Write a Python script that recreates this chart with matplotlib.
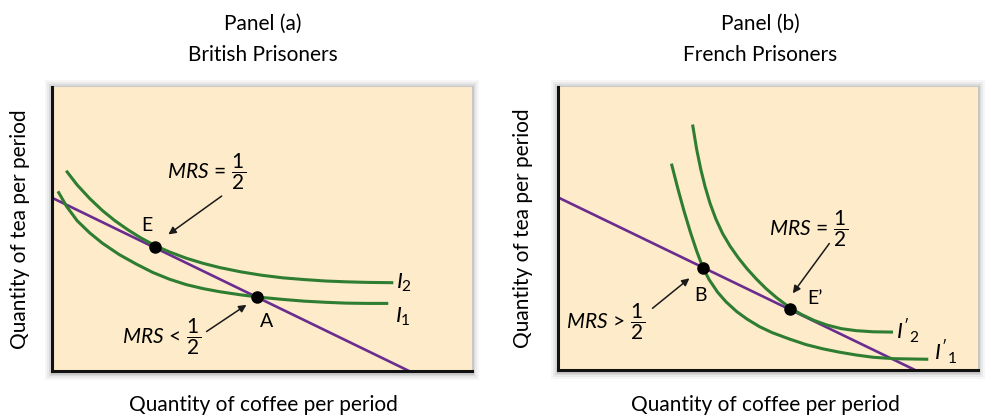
import matplotlib
matplotlib.use("Agg")
import matplotlib.pyplot as plt
from matplotlib.patches import Rectangle

plt.rcParams['font.family'] = ['Lato', 'DejaVu Sans']
plt.rcParams['mathtext.fontset'] = 'custom'
plt.rcParams['mathtext.rm'] = 'Lato'
plt.rcParams['mathtext.it'] = 'Lato:italic'

# budget line, same in both panels (coffee on x, tea on y, 0..10 units)
budget_x = [0.0, 8.5]
budget_y = [6.1, 0.0]

# panel (a): British prisoners
I1_a_x = [0.16, 0.35, 0.6, 0.9, 1.2, 1.6, 2.0, 2.4, 2.8, 3.2, 3.6, 4.0, 4.5, 5.0,
          5.5, 6.0, 6.5, 7.0, 7.5, 7.97]
I1_a_y = [6.28, 5.79, 5.29, 4.86, 4.50, 4.10, 3.77, 3.47, 3.23, 3.04, 2.90, 2.79, 2.68, 2.59,
          2.52, 2.46, 2.42, 2.39, 2.38, 2.38]
I2_a_x = [0.36, 0.6, 0.9, 1.2, 1.5, 1.8, 2.1, 2.46, 2.8, 3.2, 3.6, 4.0, 4.5, 5.0,
          5.5, 6.0, 6.5, 7.0, 7.5, 8.09]
I2_a_y = [7.01, 6.55, 6.07, 5.65, 5.29, 4.98, 4.70, 4.41, 4.19, 3.97, 3.79, 3.64, 3.49, 3.37,
          3.28, 3.22, 3.17, 3.14, 3.12, 3.11]
pts_a = {"E": (2.46, 4.37), "A": (4.88, 2.61)}

# panel (b): French prisoners
I1_b_x = [2.71, 2.85, 3.0, 3.15, 3.3, 3.45, 3.6, 3.8, 4.0, 4.25, 4.5, 4.8, 5.1, 5.5,
          5.9, 6.3, 6.7, 7.1, 7.5, 8.0, 8.78]
I1_b_y = [7.24, 6.43, 5.62, 4.88, 4.21, 3.62, 3.19, 2.75, 2.41, 2.07, 1.80, 1.53, 1.32, 1.10,
          0.90, 0.75, 0.63, 0.53, 0.45, 0.40, 0.38]
I2_b_x = [3.21, 3.3, 3.4, 3.5, 3.62, 3.76, 3.92, 4.1, 4.3, 4.5, 4.72, 4.95, 5.2, 5.52,
          5.8, 6.1, 6.4, 6.75, 7.1, 7.5, 7.94]
I2_b_y = [8.62, 7.81, 7.09, 6.49, 5.89, 5.33, 4.82, 4.37, 3.95, 3.58, 3.22, 2.88, 2.56, 2.20,
          1.96, 1.75, 1.59, 1.46, 1.39, 1.35, 1.34]
pts_b = {"B": (3.45, 3.62), "E’": (5.52, 2.17)}

green = '#2e7d32'
purple = '#6a2c8e'
bg = '#fdebc9'

W, H = 992, 418
fig = plt.figure(figsize=(W/100, H/100), dpi=100)
fig.patch.set_facecolor('white')

def px(x, y):
    # pixel (from top-left) -> figure fraction
    return x/W, 1 - y/H

def make_axes(left, top, right, bottom):
    l, t = px(left, top)
    r, b = px(right, bottom)
    ax = fig.add_axes([l, b, r-l, t-b])
    ax.set_xlim(0, 10)
    ax.set_ylim(0, 10)
    ax.set_facecolor(bg)
    ax.set_xticks([])
    ax.set_yticks([])
    for s in ['top', 'right']:
        ax.spines[s].set_visible(False)
    for s in ['left', 'bottom']:
        ax.spines[s].set_linewidth(2.2)
        ax.spines[s].set_color('#111111')
    # soft shadow round the box
    for k, a in [(7, 0.05), (5, 0.07), (3, 0.10), (1.5, 0.14)]:
        sx, sy = px(left - k, top - k)
        ex, ey = px(right + k, bottom + k + 2)
        fig.add_artist(Rectangle((sx, ey), ex-sx, sy-ey, transform=fig.transFigure,
                                 facecolor='#555555', edgecolor='none', alpha=a, zorder=-1))
    return ax

def arrow(ax, tail, head):
    ax.annotate('', xy=head, xytext=tail,
                arrowprops=dict(arrowstyle='-|>', color='#1a1a1a', lw=1.1,
                                mutation_scale=11, shrinkA=0, shrinkB=0))

fs_pt = 14    # point letters
fs_mrs = 15   # MRS labels
fs_i = 16     # curve labels
fs_ax = 15    # axis labels

# ---- panel (a)
ax = make_axes(52, 87, 472, 371)
ax.plot(budget_x, budget_y, color=purple, lw=1.9, solid_capstyle='butt')
ax.plot(I1_a_x, I1_a_y, color=green, lw=2.2)
ax.plot(I2_a_x, I2_a_y, color=green, lw=2.2)
for k, (x, y) in pts_a.items():
    ax.plot(x, y, 'o', color='black', ms=8, zorder=5)
ax.text(2.25, 5.12, "E", fontsize=fs_pt, ha='center', va='center')
ax.text(5.11, 1.76, "A", fontsize=fs_pt, ha='center', va='center')
ax.text(3.69, 7.0, r'$MRS\,=\,\dfrac{1}{2}$', fontsize=fs_mrs, ha='center', va='center')
arrow(ax, (4.04, 6.16), (2.77, 4.81))
ax.text(2.6, 1.22, r'$MRS\,<\,\dfrac{1}{2}$', fontsize=fs_mrs, ha='center', va='center')
arrow(ax, (3.68, 1.39), (4.63, 2.33))
ax.text(8.38, 3.1, r'$I_2$', fontsize=fs_i, ha='center', va='center')
ax.text(8.35, 1.9, r'$I_1$', fontsize=fs_i, ha='center', va='center')
ax.text(-0.076, 0.5, "Quantity of tea per period", transform=ax.transAxes,
        rotation=90, fontsize=fs_ax, ha='center', va='center')

# ---- panel (b)
bx = make_axes(558, 87, 978, 370)
bx.plot(budget_x, budget_y, color=purple, lw=1.9, solid_capstyle='butt')
bx.plot(I1_b_x, I1_b_y, color=green, lw=2.2)
bx.plot(I2_b_x, I2_b_y, color=green, lw=2.2)
for k, (x, y) in pts_b.items():
    bx.plot(x, y, 'o', color='black', ms=8, zorder=5)
bx.text(3.40, 2.62, "B", fontsize=fs_pt, ha='center', va='center')
bx.text(6.12, 2.52, "E’", fontsize=fs_pt, ha='center', va='center')
bx.text(5.96, 5.0, r'$MRS\,=\,\dfrac{1}{2}$', fontsize=fs_mrs, ha='center', va='center')
arrow(bx, (6.46, 4.47), (5.59, 2.71))
bx.text(1.14, 1.71, r'$MRS\,>\,\dfrac{1}{2}$', fontsize=fs_mrs, ha='center', va='center')
arrow(bx, (2.25, 2.18), (3.13, 3.24))
bx.text(8.32, 1.35, r"$I'_2$", fontsize=fs_i, ha='center', va='center')
bx.text(9.22, 0.62, r"$I'_1$", fontsize=fs_i, ha='center', va='center')
bx.text(-0.083, 0.5, "Quantity of tea per period", transform=bx.transAxes,
        rotation=90, fontsize=fs_ax, ha='center', va='center')

# ---- titles and x labels
for cx, t1, t2 in [(263, "Panel (a)", "British Prisoners"),
                   (760, "Panel (b)", "French Prisoners")]:
    fig.text(*px(cx, 24), t1, fontsize=15, ha='center', va='center')
    fig.text(*px(cx, 55), t2, fontsize=15, ha='center', va='center')
fig.text(*px(263, 405), "Quantity of coffee per period", fontsize=fs_ax, ha='center', va='center')
fig.text(*px(765, 405), "Quantity of coffee per period", fontsize=fs_ax, ha='center', va='center')

fig.savefig("out.png", dpi=100)
